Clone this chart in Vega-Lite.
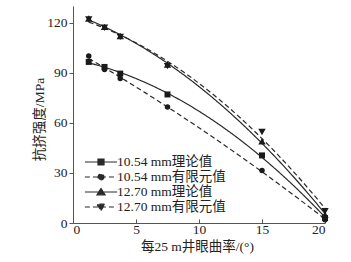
{
  "$schema": "https://vega.github.io/schema/vega-lite/v6.json",
  "width": 252,
  "height": 217,
  "autosize": "none",
  "padding": {"left": 73, "top": 6, "right": 26, "bottom": 39},
  "config": {
    "view": {"stroke": null},
    "font": "Liberation Serif, Noto Sans CJK SC",
    "axis": {"grid": false, "domainColor": "#555", "tickColor": "#555", "labelColor": "#222", "titleColor": "#222", "labelFont": "Liberation Serif", "labelFontSize": 13.5, "titleFont": "Liberation Serif, Noto Sans CJK SC", "titleFontSize": 13.5, "titleFontWeight": "normal"}
  },
  "data": {
    "values": [
      {"series": "10.54 mm理论值", "x": 1.25, "y": 96.5},
      {"series": "10.54 mm理论值", "x": 2.5, "y": 93.5},
      {"series": "10.54 mm理论值", "x": 3.75, "y": 89.5},
      {"series": "10.54 mm理论值", "x": 7.5, "y": 77},
      {"series": "10.54 mm理论值", "x": 15, "y": 40.5},
      {"series": "10.54 mm理论值", "x": 20, "y": 3},
      {"series": "10.54 mm有限元值", "x": 1.25, "y": 100},
      {"series": "10.54 mm有限元值", "x": 2.5, "y": 92},
      {"series": "10.54 mm有限元值", "x": 3.75, "y": 86.5},
      {"series": "10.54 mm有限元值", "x": 7.5, "y": 69.5},
      {"series": "10.54 mm有限元值", "x": 15, "y": 31.5},
      {"series": "10.54 mm有限元值", "x": 20, "y": 2},
      {"series": "12.70 mm理论值", "x": 1.25, "y": 122.5},
      {"series": "12.70 mm理论值", "x": 2.5, "y": 117.5},
      {"series": "12.70 mm理论值", "x": 3.75, "y": 112},
      {"series": "12.70 mm理论值", "x": 7.5, "y": 95},
      {"series": "12.70 mm理论值", "x": 15, "y": 49},
      {"series": "12.70 mm理论值", "x": 20, "y": 5},
      {"series": "12.70 mm有限元值", "x": 1.25, "y": 122},
      {"series": "12.70 mm有限元值", "x": 2.5, "y": 117},
      {"series": "12.70 mm有限元值", "x": 3.75, "y": 111.5},
      {"series": "12.70 mm有限元值", "x": 7.5, "y": 94},
      {"series": "12.70 mm有限元值", "x": 15, "y": 54.5},
      {"series": "12.70 mm有限元值", "x": 20, "y": 7}
    ]
  },
  "encoding": {
    "x": {"field": "x", "type": "quantitative", "scale": {"domain": [0, 20], "nice": false},
      "axis": {"values": [0, 5, 10, 15, 20], "title": "每25 m井眼曲率/(°)", "tickSize": -4, "labelPadding": 3, "titleX": 124, "titleY": 23.5, "titleBaseline": "middle"}},
    "y": {"field": "y", "type": "quantitative", "scale": {"domain": [0, 130], "nice": false},
      "axis": {"values": [0, 30, 60, 90, 120], "title": "抗挤强度/MPa", "tickSize": 4, "labelPadding": 2, "titleX": -34, "titleY": 113, "titleBaseline": "middle", "titleAngle": 270}}
  },
  "layer": [
    {
      "transform": [{"regression": "y", "on": "x", "groupby": ["series"], "method": "poly", "order": 2}],
      "mark": {"type": "line", "color": "#2a2a2a", "strokeWidth": 1.2},
      "encoding": {
        "strokeDash": {"field": "series", "type": "nominal",
          "scale": {"domain": ["10.54 mm理论值", "10.54 mm有限元值", "12.70 mm理论值", "12.70 mm有限元值"], "range": [[1, 0], [5, 3], [1, 0], [5, 3]]},
          "legend": {"title": null, "orient": "none", "legendX": 20, "legendY": 148, "padding": 0, "rowPadding": 0,
            "symbolSize": 196, "labelOffset": 8, "labelFontSize": 13.5, "labelFont": "Liberation Serif, Noto Sans CJK SC", "labelColor": "#222",
            "symbolStrokeWidth": 1.2, "symbolStrokeColor": "#2a2a2a", "symbolFillColor": "#2a2a2a",
            "encode": {"symbols": {"update": {
              "shape": {"signal": "['M-2.3,0H2.3M-0.43,-0.43H0.43V0.43H-0.43Z', 'M-2.3,0H2.3M0.43,0A0.43,0.43 0 1,1 -0.43,0A0.43,0.43 0 1,1 0.43,0Z', 'M-2.3,0H2.3M0,-0.5L0.57,0.4L-0.57,0.4Z', 'M-2.3,0H2.3M0,0.5L0.57,-0.4L-0.57,-0.4Z'][indexof(['10.54 mm理论值','10.54 mm有限元值','12.70 mm理论值','12.70 mm有限元值'], datum.value)]"},
              "size": {"value": 196},
              "fill": {"value": "#2a2a2a"},
              "fillOpacity": {"value": 1},
              "stroke": {"value": "#2a2a2a"},
              "strokeOpacity": {"value": 1},
              "strokeWidth": {"value": 1.2},
              "opacity": {"value": 1}
            }}}
          }}
      }
    },
    {
      "transform": [{"filter": {"field": "series", "equal": "10.54 mm理论值"}}],
      "mark": {"type": "point", "filled": true, "color": "#1a1a1a", "opacity": 1, "shape": "square", "size": 36}
    },
    {
      "transform": [{"filter": {"field": "series", "equal": "10.54 mm有限元值"}}],
      "mark": {"type": "point", "filled": true, "color": "#1a1a1a", "opacity": 1, "shape": "circle", "size": 30}
    },
    {
      "transform": [{"filter": {"field": "series", "equal": "12.70 mm理论值"}}],
      "mark": {"type": "point", "filled": true, "color": "#1a1a1a", "opacity": 1, "shape": "triangle-up", "size": 55}
    },
    {
      "transform": [{"filter": {"field": "series", "equal": "12.70 mm有限元值"}}],
      "mark": {"type": "point", "filled": true, "color": "#1a1a1a", "opacity": 1, "shape": "triangle-down", "size": 55}
    }
  ]
}
